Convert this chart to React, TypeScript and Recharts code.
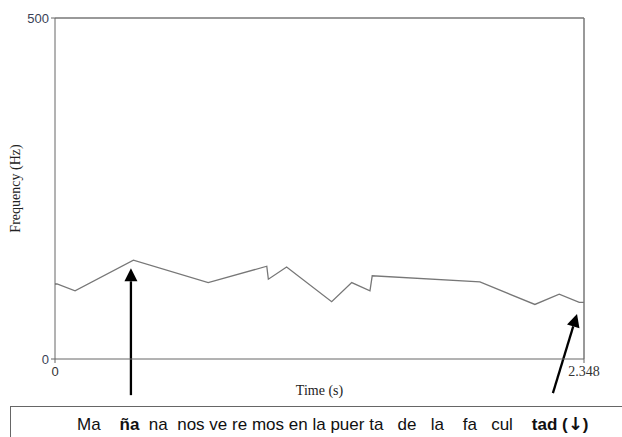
import { LineChart, Line, XAxis, YAxis, ReferenceLine, Label } from 'recharts'

// pitch track
const times = [0, 0.009, 0.089, 0.348, 0.68, 0.94, 0.947, 1.028, 1.228, 1.317, 1.398, 1.408, 1.886, 2.13, 2.238, 2.327, 2.348]
const pitch = [110, 110, 100, 145, 112, 136, 117, 135, 84, 112, 100, 122, 113, 80, 95, 83, 83]

const xTicks = [0, 2.348]
const yTicks = [0, 500]

// arrows: [tail, tip] in data units
const arrows = [
  [{ x: 0.337, y: -53 }, { x: 0.337, y: 133 }],
  [{ x: 2.21, y: -50 }, { x: 2.317, y: 66 }],
]

const syllables = [
  { s: 'Ma', b: false, gap: '    ' },
  { s: 'ña', b: true, gap: '  ' },
  { s: 'na', b: false, gap: '  ' },
  { s: 'nos', b: false, gap: ' ' },
  { s: 've', b: false, gap: ' ' },
  { s: 're', b: false, gap: ' ' },
  { s: 'mos', b: false, gap: ' ' },
  { s: 'en', b: false, gap: ' ' },
  { s: 'la', b: false, gap: ' ' },
  { s: 'puer', b: false, gap: ' ' },
  { s: 'ta', b: false, gap: '   ' },
  { s: 'de', b: false, gap: '   ' },
  { s: 'la', b: false, gap: '    ' },
  { s: 'fa', b: false, gap: '   ' },
  { s: 'cul', b: false, gap: '    ' },
  { s: 'tad', b: true, gap: '' },
]

const data = times.map((t, i) => ({ t, f: pitch[i] }))

const serif = '"Liberation Serif", "DejaVu Serif", serif'
const sans = '"Liberation Sans", Arial, sans-serif'

const XTick = (props: any) => {
  const { x, y, payload } = props
  const last = payload.value !== 0
  return (
    <text x={x} y={y + 11} textAnchor="middle" fontSize={last ? 14 : 13} fill="#333"
      fontFamily={last ? serif : sans}>
      {last ? '2.348' : '0'}
    </text>
  )
}

const YTick = (props: any) => {
  const { x, y, payload } = props
  return (
    <text x={x} y={y + 4.5} textAnchor="end" fontSize={13} fill="#3a3f55" fontFamily={sans}>
      {payload.value}
    </text>
  )
}

const Arrow = (p: any) => {
  const { x1, y1, x2, y2 } = p
  const a = Math.atan2(y2 - y1, x2 - x1)
  const len = 13
  const half = 6.5
  const bx = x2 - len * Math.cos(a)
  const by = y2 - len * Math.sin(a)
  const px = -Math.sin(a) * half
  const py = Math.cos(a) * half
  return (
    <g>
      <line x1={x1} y1={y1} x2={bx} y2={by} stroke="#000" strokeWidth={2.3} />
      <polygon points={`${x2},${y2} ${bx + px},${by + py} ${bx - px},${by - py}`} fill="#000" />
    </g>
  )
}

export default function App() {
  return (
    <div style={{ position: 'absolute', left: 0, top: 0, width: 622, height: 437, background: '#fff', overflow: 'hidden' }}>
      <LineChart width={622} height={400} data={data} margin={{ top: 18, right: 38, left: 0, bottom: 5 }}>
        <XAxis type="number" dataKey="t" domain={[0, 2.348]} ticks={xTicks} height={36}
          stroke="#666" tickSize={4} tick={<XTick />} interval={0}>
          <Label value="Time (s)" position="insideBottom" offset={0}
            style={{ fontFamily: serif, fontSize: 14, fill: '#222' }} />
        </XAxis>
        <YAxis type="number" domain={[0, 500]} ticks={yTicks} width={55}
          stroke="#666" tickSize={4} tick={<YTick />} interval={0}>
          <Label value="Frequency (Hz)" angle={-90} position="center" dx={-12.5}
            style={{ fontFamily: serif, fontSize: 14, fill: '#222' }} />
        </YAxis>
        <ReferenceLine y={500} stroke="#777" strokeWidth={1.5} />
        <ReferenceLine x={2.348} stroke="#777" strokeWidth={1.5} />
        <Line type="linear" dataKey="f" stroke="#777" strokeWidth={1.3} dot={false} isAnimationActive={false} />
        {arrows.map((seg, i) => (
          <ReferenceLine key={i} segment={seg} ifOverflow="visible" shape={<Arrow />} />
        ))}
      </LineChart>
      <div style={{
        position: 'absolute', left: 10, top: 406, width: 620, height: 40,
        borderTop: '1.5px solid #666', borderLeft: '1.5px solid #666',
        fontFamily: sans, fontSize: 17, color: '#111', whiteSpace: 'pre',
        boxSizing: 'border-box', paddingLeft: 66, paddingTop: 6,
      }}>
        {syllables.map((w, i) => (
          <span key={i}>
            {w.b ? <b>{w.s}</b> : w.s}
            {w.gap}
          </span>
        ))}
        <b> (<span style={{ fontFamily: '"DejaVu Sans", sans-serif', fontSize: 18 }}>↓</span>)</b>
      </div>
    </div>
  )
}
